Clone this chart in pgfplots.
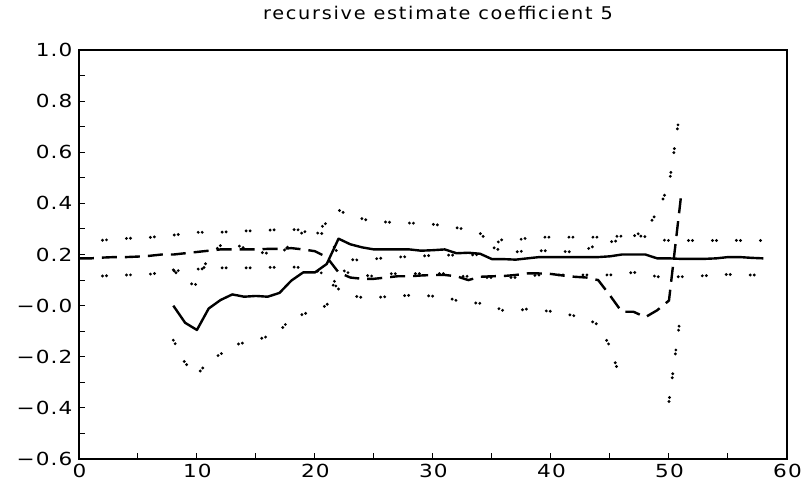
\documentclass[border=0pt]{standalone}
\usepackage{fontspec}
\setmainfont{DejaVu Sans}
\newfontfamily\tickfont[FakeStretch=1.2, LetterSpace=6]{DejaVu Sans}
\newfontfamily\titlefont[FakeStretch=1.1, LetterSpace=10]{DejaVu Sans}
\usepackage{pgfplots}
\pgfplotsset{compat=1.18}
\begin{document}
\begin{tikzpicture}
\begin{axis}[
  name=ax,
  scale only axis,
  width=708bp, height=409bp,
  xmin=0, xmax=60, ymin=-0.6, ymax=1.0,
  axis line style={line width=1.6bp},
  tick pos=left, tick align=inside,
  major tick length=6bp, minor tick length=6bp,
  tick style={line width=1bp, black},
  xtick={0,10,20,30,40,50,60}, minor x tick num=1,
  ytick={-0.6,-0.4,-0.2,0,0.2,0.4,0.6,0.8,1.0}, minor y tick num=1,
  yticklabels={−0.6,−0.4,−0.2,−0.0,0.2,0.4,0.6,0.8,1.0},
  xticklabels={0,10,20,30,40,50,60},
  ticklabel style={font=\tickfont\fontsize{18bp}{20bp}\selectfont},
  yticklabel style={xshift=-3bp},
  xticklabel style={yshift=-2bp, xshift=0.5bp},
  title={recursive estimate coefficient 5},
  title style={font=\titlefont\fontsize{17.5bp}{20bp}\selectfont, at={(0.5,1)}, anchor=base, yshift=25bp, xshift=5bp},
  every axis plot/.append style={black},
]
% solid: recursive estimate
\addplot[line width=2.4bp, line join=round] coordinates {
(8,0.0)(9,-0.067)(10,-0.095)(11,-0.011)(12,0.022)(13,0.044)(14,0.035)(15,0.038)(16,0.035)(17,0.05)
(18,0.098)(19,0.13)(20,0.13)(21,0.163)(22,0.262)(23,0.24)(24,0.228)(25,0.22)(26,0.22)(27,0.22)
(28,0.22)(29,0.215)(30,0.217)(31,0.22)(32,0.205)(33,0.207)(34,0.203)(35,0.182)(36,0.182)(37,0.18)
(38,0.185)(39,0.19)(40,0.19)(41,0.19)(42,0.19)(43,0.19)(44,0.19)(45,0.193)(46,0.2)(47,0.2)
(48,0.2)(49,0.185)(50,0.185)(51,0.183)(52,0.183)(53,0.183)(54,0.185)(55,0.19)(56,0.19)(57,0.187)(58,0.185)};
% dotted: bands of solid
\addplot[line width=3.2bp, line cap=round, dash pattern=on 0bp off 4bp on 0bp off 20bp] coordinates {
(8,0.14)(9,0.09)(10,0.082)(11,0.195)(12,0.235)(13,0.245)(14,0.225)(15,0.21)(16,0.205)(17,0.2)
(18,0.243)(19,0.29)(20,0.285)(21,0.325)(22,0.374)(23,0.35)(24,0.34)(25,0.328)(26,0.327)(27,0.325)
(28,0.323)(29,0.322)(30,0.318)(31,0.313)(32,0.305)(33,0.296)(34,0.283)(35,0.235)(36,0.262)(37,0.255)
(38,0.265)(39,0.268)(40,0.268)(41,0.268)(42,0.268)(43,0.268)(44,0.268)(45,0.27)(46,0.272)(47,0.275)
(48,0.27)(49,0.258)(50,0.255)(51,0.255)(52,0.255)(53,0.255)(54,0.255)(55,0.256)(56,0.255)(57,0.255)(58,0.255)};
\addplot[line width=3.2bp, line cap=round, dash pattern=on 0bp off 4bp on 0bp off 20bp] coordinates {
(8,-0.135)(9,-0.225)(10,-0.272)(11,-0.215)(12,-0.19)(13,-0.155)(14,-0.145)(15,-0.135)(16,-0.12)(17,-0.1)
(18,-0.047)(19,-0.034)(20,-0.015)(21,0.0)(22,0.146)(23,0.125)(24,0.12)(25,0.115)(26,0.125)(27,0.125)
(28,0.125)(29,0.125)(30,0.125)(31,0.125)(32,0.115)(33,0.115)(34,0.11)(35,0.11)(36,0.11)(37,0.11)
(38,0.115)(39,0.12)(40,0.12)(41,0.12)(42,0.12)(43,0.12)(44,0.12)(45,0.12)(46,0.125)(47,0.13)
(48,0.125)(49,0.113)(50,0.113)(51,0.113)(52,0.115)(53,0.117)(54,0.12)(55,0.122)(56,0.12)(57,0.12)(58,0.12)};
% dashed: second estimate
\addplot[line width=2.4bp, dash pattern=on 15bp off 8bp] coordinates {
(0,0.185)(1,0.185)(2,0.188)(3,0.19)(4,0.19)(5,0.192)(6,0.195)(7,0.2)(8,0.2)(9,0.205)
(10,0.21)(11,0.215)(12,0.22)(13,0.22)(14,0.22)(15,0.22)(16,0.222)(17,0.222)(18,0.225)(19,0.22)
(20,0.213)(21,0.19)(22,0.13)(23,0.11)(24,0.105)(25,0.105)(26,0.11)(27,0.115)(28,0.115)(29,0.118)
(30,0.12)(31,0.12)(32,0.115)(33,0.1)(34,0.113)(35,0.115)(36,0.116)(37,0.12)(38,0.126)(39,0.126)
(40,0.124)(41,0.118)(42,0.113)(43,0.11)(44,0.1)(45,0.04)(46,-0.024)(47,-0.024)(48,-0.045)(49,-0.018)
(50,0.02)(51,0.42)};
% dotted: bands of dashed
\addplot[line width=3.2bp, line cap=round, dash pattern=on 0bp off 4bp on 0bp off 20bp] coordinates {
(2,0.256)(3,0.26)(4,0.263)(5,0.265)(6,0.267)(7,0.272)(8,0.276)(9,0.282)(10,0.287)(11,0.287)
(12,0.287)(13,0.29)(14,0.292)(15,0.293)(16,0.295)(17,0.298)(18,0.298)(19,0.296)(20,0.285)(21,0.28)
(22,0.2)(23,0.18)(24,0.178)(25,0.183)(26,0.187)(27,0.19)(28,0.192)(29,0.194)(30,0.197)(31,0.198)
(32,0.197)(33,0.198)(34,0.2)(35,0.23)(36,0.21)(37,0.21)(38,0.215)(39,0.215)(40,0.215)(41,0.212)
(42,0.21)(43,0.22)(44,0.24)(45,0.25)(46,0.255)(47,0.272)(48,0.295)(49,0.365)(50,0.472)(51,0.78)};
\addplot[line width=3.2bp, line cap=round, dash pattern=on 0bp off 4bp on 0bp off 20bp] coordinates {
(2,0.116)(3,0.118)(4,0.12)(5,0.121)(6,0.123)(7,0.13)(8,0.135)(9,0.14)(10,0.143)(11,0.145)
(12,0.148)(13,0.148)(14,0.148)(15,0.148)(16,0.15)(17,0.15)(18,0.152)(19,0.148)(20,0.14)(21,0.118)
(22,0.065)(23,0.04)(24,0.032)(25,0.031)(26,0.035)(27,0.039)(28,0.04)(29,0.041)(30,0.037)(31,0.035)
(32,0.02)(33,0.013)(34,0.009)(35,0.0)(36,-0.02)(37,-0.02)(38,-0.013)(39,-0.018)(40,-0.022)(41,-0.03)
(42,-0.04)(43,-0.05)(44,-0.075)(45,-0.16)(46,-0.3)};
\addplot[line width=3.2bp, line cap=round, dash pattern=on 0bp off 4bp on 0bp off 20bp] coordinates {
(50,-0.375)(51,-0.03)};
\end{axis}
\pgfresetboundingbox
\path ([xshift=-78.9bp,yshift=-30bp]ax.south west) rectangle ([xshift=14bp,yshift=50bp]ax.north east);
\end{tikzpicture}
\end{document}
